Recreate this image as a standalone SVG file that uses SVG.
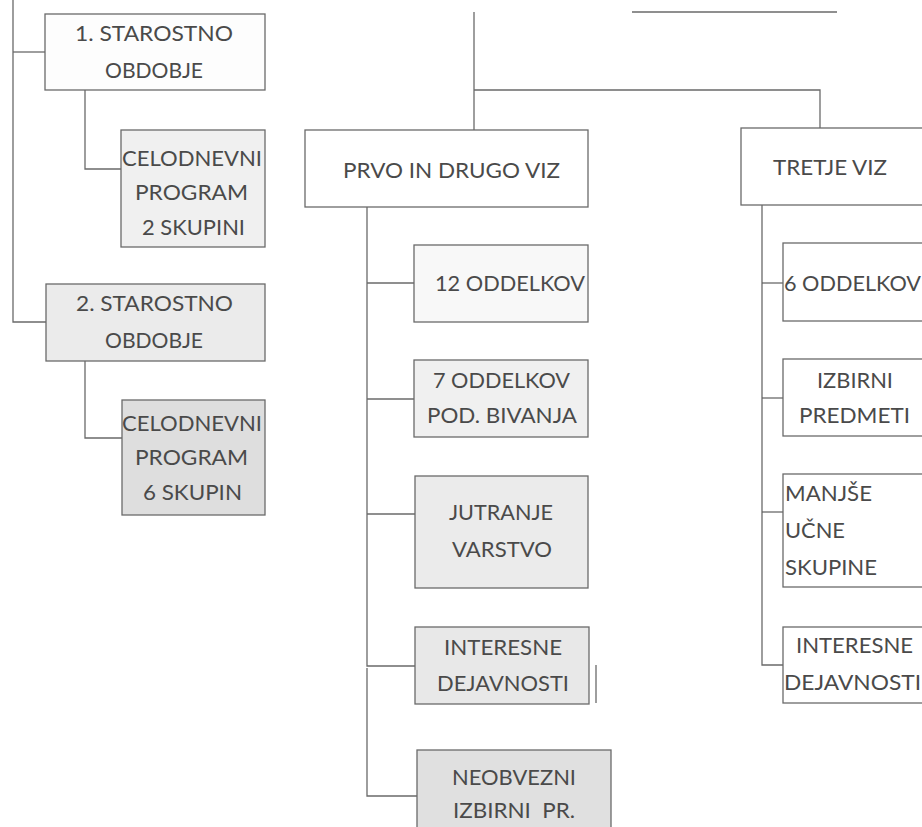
<svg xmlns="http://www.w3.org/2000/svg" width="922" height="827" viewBox="0 0 922 827">
<style>
.box{stroke:#6a6a6a;stroke-width:1.3}
.t{font-family:Lato,"Open Sans","Liberation Sans",sans-serif;font-size:21px;fill:#4a4a4a}
.c{fill:none;stroke:#6a6a6a;stroke-width:1.3}
</style>
<rect width="922" height="827" fill="#ffffff"/>
<g id="connectors">
<polyline class="c" points="13,0 13,322 46,322"/>
<line class="c" x1="13" y1="52" x2="45" y2="52"/>
<polyline class="c" points="85,90 85,169 121,169"/>
<polyline class="c" points="85,361 85,438 122,438"/>
<line class="c" x1="474" y1="12" x2="474" y2="130"/>
<polyline class="c" points="474,90 820,90 820,128"/>
<line class="c" x1="632" y1="12" x2="837" y2="12"/>
<polyline class="c" points="367,207 367,666 415,666"/>
<line class="c" x1="367" y1="283" x2="414" y2="283"/>
<line class="c" x1="367" y1="399" x2="414" y2="399"/>
<line class="c" x1="367" y1="514" x2="415" y2="514"/>
<polyline class="c" points="367,668 367,796 417,796"/>
<line class="c" x1="596" y1="665" x2="596" y2="703"/>
<polyline class="c" points="762,205 762,665 783,665"/>
<line class="c" x1="762" y1="283" x2="783" y2="283"/>
<line class="c" x1="762" y1="398" x2="783" y2="398"/>
<line class="c" x1="762" y1="512" x2="783" y2="512"/>
</g>
<g id="n1">
<rect class="box" x="45" y="14" width="220" height="76" fill="#fdfdfd"/>
<text class="t" x="75" y="41" textLength="158" lengthAdjust="spacingAndGlyphs">1. STAROSTNO</text>
<text class="t" x="105" y="78" textLength="98" lengthAdjust="spacingAndGlyphs">OBDOBJE</text>
</g>
<g id="n2">
<rect class="box" x="121" y="130" width="144" height="117" fill="#f0f0f0"/>
<text class="t" x="122" y="166" textLength="140" lengthAdjust="spacingAndGlyphs">CELODNEVNI</text>
<text class="t" x="135" y="200" textLength="113" lengthAdjust="spacingAndGlyphs">PROGRAM</text>
<text class="t" x="142" y="235" textLength="103" lengthAdjust="spacingAndGlyphs">2 SKUPINI</text>
</g>
<g id="n3">
<rect class="box" x="46" y="284" width="219" height="77" fill="#ebebeb"/>
<text class="t" x="76" y="311" textLength="157" lengthAdjust="spacingAndGlyphs">2. STAROSTNO</text>
<text class="t" x="105" y="348" textLength="98" lengthAdjust="spacingAndGlyphs">OBDOBJE</text>
</g>
<g id="n4">
<rect class="box" x="122" y="400" width="143" height="115" fill="#dedede"/>
<text class="t" x="122" y="431" textLength="140" lengthAdjust="spacingAndGlyphs">CELODNEVNI</text>
<text class="t" x="135" y="465" textLength="113" lengthAdjust="spacingAndGlyphs">PROGRAM</text>
<text class="t" x="143" y="500" textLength="99" lengthAdjust="spacingAndGlyphs">6 SKUPIN</text>
</g>
<g id="n5">
<rect class="box" x="305" y="130" width="283" height="77" fill="#ffffff"/>
<text class="t" x="343" y="178" textLength="217" lengthAdjust="spacingAndGlyphs">PRVO IN DRUGO VIZ</text>
</g>
<g id="n6">
<rect class="box" x="414" y="245" width="174" height="77" fill="#f8f8f8"/>
<text class="t" x="435" y="291" textLength="150" lengthAdjust="spacingAndGlyphs">12 ODDELKOV</text>
</g>
<g id="n7">
<rect class="box" x="414" y="360" width="174" height="77" fill="#f0f0f0"/>
<text class="t" x="433" y="388" textLength="137" lengthAdjust="spacingAndGlyphs">7 ODDELKOV</text>
<text class="t" x="427" y="423" textLength="150" lengthAdjust="spacingAndGlyphs">POD. BIVANJA</text>
</g>
<g id="n8">
<rect class="box" x="415" y="476" width="173" height="112" fill="#ebebeb"/>
<text class="t" x="449" y="520" textLength="104" lengthAdjust="spacingAndGlyphs">JUTRANJE</text>
<text class="t" x="452" y="557" textLength="100" lengthAdjust="spacingAndGlyphs">VARSTVO</text>
</g>
<g id="n9">
<rect class="box" x="415" y="627" width="174" height="77" fill="#e8e8e8"/>
<text class="t" x="444" y="655" textLength="118" lengthAdjust="spacingAndGlyphs">INTERESNE</text>
<text class="t" x="437" y="691" textLength="132" lengthAdjust="spacingAndGlyphs">DEJAVNOSTI</text>
</g>
<g id="n10">
<rect class="box" x="417" y="750" width="194" height="90" fill="#e0e0e0"/>
<text class="t" x="452" y="785" textLength="124" lengthAdjust="spacingAndGlyphs">NEOBVEZNI</text>
<text class="t" x="453" y="818" textLength="122" lengthAdjust="spacingAndGlyphs" xml:space="preserve">IZBIRNI  PR.</text>
</g>
<g id="n11">
<rect class="box" x="741" y="128" width="200" height="77" fill="#ffffff"/>
<text class="t" x="773" y="175" textLength="114" lengthAdjust="spacingAndGlyphs">TRETJE VIZ</text>
</g>
<g id="n12">
<rect class="box" x="783" y="243" width="160" height="78" fill="#ffffff"/>
<text class="t" x="784" y="291" textLength="137" lengthAdjust="spacingAndGlyphs">6 ODDELKOV</text>
</g>
<g id="n13">
<rect class="box" x="783" y="359" width="160" height="77" fill="#ffffff"/>
<text class="t" x="817" y="388" textLength="76" lengthAdjust="spacingAndGlyphs">IZBIRNI</text>
<text class="t" x="799" y="423" textLength="111" lengthAdjust="spacingAndGlyphs">PREDMETI</text>
</g>
<g id="n14">
<rect class="box" x="783" y="474" width="160" height="113" fill="#ffffff"/>
<text class="t" x="785" y="501" textLength="87" lengthAdjust="spacingAndGlyphs">MANJŠE</text>
<text class="t" x="785" y="538" textLength="60" lengthAdjust="spacingAndGlyphs">UČNE</text>
<text class="t" x="785" y="575" textLength="92" lengthAdjust="spacingAndGlyphs">SKUPINE</text>
</g>
<g id="n15">
<rect class="box" x="783" y="627" width="160" height="76" fill="#ffffff"/>
<text class="t" x="796" y="653" textLength="117" lengthAdjust="spacingAndGlyphs">INTERESNE</text>
<text class="t" x="784" y="690" textLength="137" lengthAdjust="spacingAndGlyphs">DEJAVNOSTI</text>
</g>
</svg>
